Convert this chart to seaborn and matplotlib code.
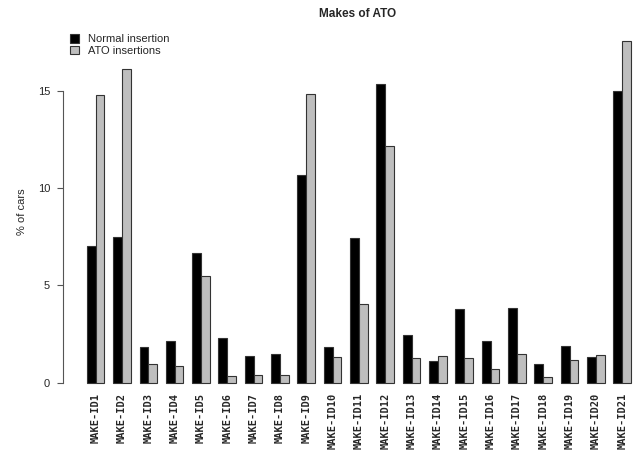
import numpy as np
import pandas as pd
import matplotlib
matplotlib.use("Agg")
import matplotlib.pyplot as plt
import seaborn as sns

# values (% of cars)
makes = ["MAKE-ID%d" % i for i in range(1, 22)]
normal = [7.04, 7.50, 1.85, 2.14, 6.69, 2.31, 1.38, 1.47, 10.70, 1.81, 7.46,
          15.37, 2.43, 1.11, 3.79, 2.14, 3.84, 0.95, 1.87, 1.31, 15.03]
ato = [14.80, 16.16, 0.97, 0.83, 5.49, 0.33, 0.40, 0.37, 14.86, 1.31, 4.03,
       12.19, 1.26, 1.35, 1.25, 0.68, 1.48, 0.28, 1.14, 1.43, 17.60]
series = ["Normal insertion", "ATO insertions"]

df = pd.DataFrame({
    "make": makes * 2,
    "pct": normal + ato,
    "type": [series[0]] * len(makes) + [series[1]] * len(makes),
})

sns.set_style("white")
plt.rcParams['font.family'] = ['Liberation Sans', 'DejaVu Sans']

fig = plt.figure(figsize=(6.39, 4.55), dpi=100)
ax = fig.add_axes([63 / 639, 1 - 396.2 / 455, 576 / 639, (396.2 - 27) / 455])

sns.barplot(data=df, x="make", y="pct", hue="type", order=makes,
            hue_order=series, palette=["black", "#bebebe"], width=2 / 3,
            edgecolor="#333333", linewidth=0.8, saturation=1, ax=ax)

ymax = max(max(normal), max(ato))
ax.set_ylim(-0.04 * ymax, 1.04 * ymax)
ax.set_xlim(-1.24, 20.64)

for s in ["top", "right", "bottom"]:
    ax.spines[s].set_visible(False)
ax.spines["left"].set_bounds(0, 15)
ax.spines["left"].set_color("#555555")
ax.spines["left"].set_linewidth(0.8)

ax.set_yticks([0, 5, 10, 15])
ax.tick_params(axis="y", length=4.3, width=0.8, color="#555555", pad=5,
               labelsize=8, left=True)
ax.tick_params(axis="x", length=0, pad=-2.5)
for lab in ax.get_xticklabels():
    lab.set_rotation(90)
    lab.set_family("DejaVu Sans Mono")
    lab.set_fontweight("bold")
    lab.set_fontsize(7.5)

ax.set_xlabel("")
ax.set_ylabel("% of cars", fontsize=8, labelpad=8)

fig.text(358 / 639, 1 - 14 / 455, "Makes of ATO", ha="center", va="center",
         fontsize=8.5, fontweight="bold")

handles, labels = ax.get_legend_handles_labels()
ax.legend(handles, labels, loc="upper left", bbox_to_anchor=(70 / 639, 1 - 34 / 455),
          bbox_transform=fig.transFigure, frameon=False, fontsize=8,
          handlelength=0.8, handleheight=0.8, handletextpad=0.8,
          labelspacing=0.15, borderpad=0, borderaxespad=0)

plt.savefig("out.png", dpi=100)
